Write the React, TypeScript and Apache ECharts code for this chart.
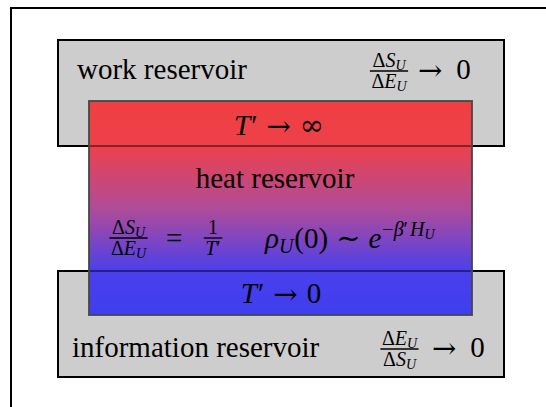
import React, { useEffect, useRef } from "react";
import * as echarts from "echarts";

const SERIF = "Liberation Serif";
const SYM = "DejaVu Serif";

// reservoir labels
const reservoirNames = ["work reservoir", "heat reservoir", "information reservoir"];
// limits written in the boxes
const limitSymbols = ["∞", "0"];
const arrow = "→";

type Run = { t: string; s: number; it?: boolean; dy?: number; gap?: number; f?: string };

let ctx: CanvasRenderingContext2D | null = null;
function mw(r: Run): number {
  if (!ctx) ctx = document.createElement("canvas").getContext("2d");
  ctx!.font = `${r.it ? "italic" : "normal"} normal ${r.s}px "${r.f || SERIF}"`;
  return ctx!.measureText(r.t).width;
}
function runsWidth(runs: Run[]) {
  return runs.reduce((a, r) => a + (r.gap || 0) + mw(r), 0);
}

function layout(runs: Run[], x: number, base: number, els: any[], align: "left" | "center" = "left") {
  const total = runsWidth(runs);
  let cx = align === "center" ? x - total / 2 : x;
  for (const r of runs) {
    cx += r.gap || 0;
    const style: any = { text: r.t, fontSize: r.s, fill: "#000", fontFamily: r.f || SERIF };
    if (r.it) style.fontStyle = "italic";
    els.push({ type: "text", x: cx, y: base + (r.dy || 0) - 0.8375 * r.s, style });
    cx += mw(r);
  }
  return total;
}

function frac(cx: number, barY: number, num: Run[], den: Run[], els: any[], lines: any[]) {
  const bw = Math.max(runsWidth(num), runsWidth(den)) + 3;
  lines.push({
    type: "line",
    shape: { x1: cx - bw / 2, y1: barY, x2: cx + bw / 2, y2: barY },
    style: { stroke: "#000", lineWidth: 1.3 },
  });
  layout(num, cx, barY - 4, els, "center");
  layout(den, cx, barY + 17, els, "center");
}

const dS: Run[] = [
  { t: "Δ", s: 20 },
  { t: "S", s: 20, it: true },
  { t: "U", s: 14, it: true, dy: 3 },
];
const dE: Run[] = [
  { t: "Δ", s: 20 },
  { t: "E", s: 20, it: true },
  { t: "U", s: 14, it: true, dy: 3 },
];
const arrowRun = (gap: number): Run => ({ t: arrow, s: 29, f: SYM, gap, dy: 1 });

function buildGraphic() {
  const shapes: any[] = [];
  const texts: any[] = [];
  // outer frame
  shapes.push({ type: "line", shape: { x1: 10, y1: 8, x2: 546, y2: 8 }, style: { stroke: "#000", lineWidth: 2 } });
  shapes.push({ type: "line", shape: { x1: 11, y1: 7, x2: 11, y2: 407 }, style: { stroke: "#000", lineWidth: 2 } });
  // gray reservoirs
  shapes.push({ type: "rect", shape: { x: 58, y: 40, width: 446, height: 106 }, style: { fill: "#cdcdcd", stroke: "#000", lineWidth: 2 } });
  shapes.push({ type: "rect", shape: { x: 58, y: 271, width: 446, height: 106 }, style: { fill: "#cdcdcd", stroke: "#000", lineWidth: 2 } });
  // heat reservoir
  shapes.push({
    type: "rect",
    shape: { x: 89, y: 101, width: 383, height: 214 },
    style: {
      fill: new echarts.graphic.LinearGradient(0, 0, 0, 1, [
        { offset: 0, color: "#ef3f43" },
        { offset: 0.2, color: "#ee4048" },
        { offset: 0.5, color: "#b04c98" },
        { offset: 0.8, color: "#4a3fec" },
        { offset: 1, color: "#3e3eee" },
      ]),
      stroke: "rgba(70,70,70,0.9)",
      lineWidth: 2,
    },
  });
  // borders seen through the heat reservoir
  shapes.push({ type: "line", shape: { x1: 90, y1: 146, x2: 471, y2: 146 }, style: { stroke: "rgba(40,0,0,0.5)", lineWidth: 2 } });
  shapes.push({ type: "line", shape: { x1: 90, y1: 271, x2: 471, y2: 271 }, style: { stroke: "rgba(0,0,40,0.5)", lineWidth: 2 } });

  // work reservoir
  layout([{ t: reservoirNames[0], s: 29 }], 77, 79, texts);
  frac(389, 71, dS, dE, texts, shapes);
  layout([arrowRun(0), { t: limitSymbols[1], s: 29, gap: 14 }], 418, 79, texts);

  // T' -> infinity
  layout(
    [
      { t: "T", s: 29, it: true },
      { t: "′", s: 29, gap: 1 },
      arrowRun(9),
      { t: limitSymbols[0], s: 29, gap: 9, f: SYM },
    ],
    279,
    135,
    texts,
    "center"
  );

  // heat reservoir
  layout([{ t: reservoirNames[1], s: 29 }], 275, 188, texts, "center");
  frac(128.5, 238, dS, dE, texts, shapes);
  layout([{ t: "=", s: 29 }], 166, 248, texts);
  frac(213, 238, [{ t: "1", s: 20 }], [{ t: "T", s: 20, it: true }, { t: "′", s: 20 }], texts, shapes);
  layout(
    [
      { t: "ρ", s: 29, it: true },
      { t: "U", s: 20, it: true, dy: 5 },
      { t: "(0)", s: 29, gap: 1 },
      { t: "∼", s: 29, gap: 8, f: SYM },
      { t: "e", s: 29, it: true, gap: 8 },
      { t: "−", s: 20, dy: -12, gap: 1 },
      { t: "β", s: 20, it: true, dy: -12 },
      { t: "′", s: 20, dy: -12 },
      { t: "H", s: 20, it: true, dy: -12, gap: 2 },
      { t: "U", s: 14, it: true, dy: -9 },
    ],
    265,
    248,
    texts
  );

  // T' -> 0
  layout(
    [
      { t: "T", s: 29, it: true },
      { t: "′", s: 29, gap: 1 },
      arrowRun(9),
      { t: limitSymbols[1], s: 29, gap: 9 },
    ],
    281,
    303,
    texts,
    "center"
  );

  // information reservoir
  layout([{ t: reservoirNames[2], s: 29 }], 72, 357, texts);
  frac(399.5, 349, dE, dS, texts, shapes);
  layout([arrowRun(0), { t: limitSymbols[1], s: 29, gap: 14 }], 432, 357, texts);

  return [...shapes, ...texts];
}

export default function App() {
  const ref = useRef<HTMLDivElement>(null);
  useEffect(() => {
    if (!ref.current) return;
    const chart = echarts.init(ref.current, null, { renderer: "svg" });
    chart.setOption({
      animation: false,
      backgroundColor: "#ffffff",
      graphic: { elements: buildGraphic() },
    });
    return () => chart.dispose();
  }, []);
  return (
    <div
      ref={ref}
      style={{ position: "fixed", left: 0, top: 0, width: 546, height: 407, background: "#fff" }}
    />
  );
}
